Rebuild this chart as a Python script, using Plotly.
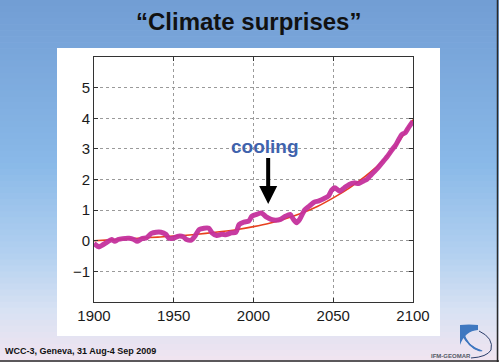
import plotly.graph_objects as go

# ---------------- data ----------------
years_obs = [1900, 1903, 1905, 1908, 1911, 1913, 1915, 1918, 1922, 1925, 1927, 1930,
             1933, 1936, 1939, 1942, 1945, 1947, 1950, 1953, 1956, 1958, 1961, 1963,
             1966, 1969, 1972, 1974, 1977, 1980, 1983, 1986, 1989, 1991, 1994, 1997,
             1999, 2002, 2005, 2008, 2011, 2014, 2017, 2020, 2023, 2025, 2027, 2029,
             2032, 2035, 2038, 2041, 2044, 2047, 2049, 2051, 2054, 2057, 2060, 2063,
             2066, 2069, 2071, 2073, 2075, 2078, 2081, 2084, 2087, 2089, 2091, 2093,
             2095, 2097, 2100]
temp_obs = [-0.09, -0.20, -0.15, -0.05, 0.04, -0.02, 0.04, 0.07, 0.08, 0.04, -0.02, 0.07,
            0.10, 0.24, 0.28, 0.28, 0.21, 0.08, 0.09, 0.15, 0.13, 0.04, 0.02, 0.13,
            0.37, 0.41, 0.41, 0.26, 0.17, 0.21, 0.20, 0.26, 0.28, 0.53, 0.61, 0.64,
            0.80, 0.86, 0.91, 0.78, 0.70, 0.67, 0.70, 0.80, 0.86, 0.70, 0.59, 0.70,
            1.00, 1.13, 1.26, 1.30, 1.37, 1.46, 1.65, 1.73, 1.62, 1.73, 1.84, 1.89,
            1.87, 1.95, 2.00, 2.11, 2.22, 2.38, 2.57, 2.76, 2.98, 3.11, 3.30, 3.47,
            3.52, 3.68, 3.90]

years_trend = [1900, 1910, 1920, 1930, 1940, 1950, 1960, 1970, 1980, 1990, 2000,
               2010, 2020, 2030, 2040, 2050, 2060, 2070, 2080, 2090, 2100]
temp_trend = [0.00, 0.03, 0.06, 0.09, 0.12, 0.15, 0.19, 0.24, 0.30, 0.37, 0.46,
              0.57, 0.72, 0.90, 1.12, 1.40, 1.72, 2.10, 2.55, 3.15, 3.95]

x_ticks = [1900, 1950, 2000, 2050, 2100]
y_ticks = [-1, 0, 1, 2, 3, 4, 5]

title_text = "“Climate surprises”"
footer_text = "WCC-3, Geneva, 31 Aug-4 Sep 2009"
annot_text = "cooling"
logo_text = "IFM-GEOMAR"

# ---------------- layout geometry ----------------
W, H = 499, 362
L, R, T, B = 94, 413, 57, 302
ML, MR, MT, MB = L, W - R, T, H - B
PW, PH = R - L, B - T


def px(X):
    return (X - L) / PW


def py(Y):
    return (B - Y) / PH


fig = go.Figure()

fig.add_trace(go.Scatter(x=years_trend, y=temp_trend, mode="lines",
                         line=dict(color="#e8401e", width=1.6, shape="spline"),
                         hoverinfo="skip", showlegend=False))
fig.add_trace(go.Scatter(x=years_obs, y=temp_obs, mode="lines",
                         line=dict(color="#c4309c", width=5, shape="spline", smoothing=0.6),
                         opacity=0.95, hoverinfo="skip", showlegend=False))

# background gradient bands
stops = [(0.0, (114, 157, 212)), (0.45, (137, 185, 232)), (0.7, (178, 208, 240)),
         (0.86, (216, 226, 243)), (1.0, (242, 228, 240))]


def grad(t):
    for (t0, c0), (t1, c1) in zip(stops[:-1], stops[1:]):
        if t0 <= t <= t1:
            f = (t - t0) / (t1 - t0)
            return tuple(round(a + (b - a) * f) for a, b in zip(c0, c1))
    return stops[-1][1]


shapes = []
n = 60
for i in range(n):
    y0 = H * i / n
    y1 = H * (i + 1) / n + 0.6
    c = grad((i + 0.5) / n)
    shapes.append(dict(type="rect", xref="paper", yref="paper", layer="below",
                       x0=px(0), x1=px(W), y0=py(y1), y1=py(y0),
                       fillcolor="rgb(%d,%d,%d)" % c, line=dict(width=0)))
# white panel
shapes.append(dict(type="rect", xref="paper", yref="paper", layer="below",
                   x0=px(57), x1=px(440), y0=py(336), y1=py(48),
                   fillcolor="white", line=dict(width=0)))
# slide frame lines (right and bottom)
shapes.append(dict(type="line", xref="paper", yref="paper", layer="above",
                   x0=px(497.5), x1=px(497.5), y0=py(0), y1=py(362),
                   line=dict(color="#2a2a2a", width=1.5)))
shapes.append(dict(type="line", xref="paper", yref="paper", layer="above",
                   x0=px(0), x1=px(499), y0=py(361), y1=py(361),
                   line=dict(color="#2a2a2a", width=1.5)))
# logo approximation
logo_path = "M {} {} L {} {} Q {} {} {} {} L {} {} Q {} {} {} {} Z".format(
    px(460), py(325), px(460), py(345), px(465), py(331), px(478), py(330),
    px(478), py(325), px(469), py(324), px(460), py(325))
shapes.append(dict(type="path", xref="paper", yref="paper", layer="above",
                   path=logo_path, fillcolor="#3f78c0", line=dict(width=0)))
for k, (r, w) in enumerate([(7, 1.3), (10, 1.3), (13, 1.3)]):
    shapes.append(dict(type="path", xref="paper", yref="paper", layer="above",
                       path="M {} {} Q {} {} {} {}".format(px(463), py(332 + k * 2),
                                                           px(466 + r * 0.2), py(347),
                                                           px(477 + r * 0.4), py(351)),
                       line=dict(color="#3f78c0", width=w)))
shapes.append(dict(type="path", xref="paper", yref="paper", layer="above",
                   path="M {} {} Q {} {} {} {} Q {} {} {} {}".format(
                       px(479), py(331), px(494), py(338), px(491), py(350),
                       px(487), py(357), px(471), py(358)),
                   line=dict(color="#2a3d6a", width=1)))

annotations = [
    dict(text=title_text, xref="paper", yref="paper", x=px(248), y=py(21),
         xanchor="center", yanchor="middle", showarrow=False,
         font=dict(family="Liberation Sans, Arial", size=24, color="#111111", weight="bold")),
    dict(text=footer_text, xref="paper", yref="paper", x=px(3), y=py(351),
         xanchor="left", yanchor="middle", showarrow=False,
         font=dict(family="Liberation Sans, Arial", size=9, color="#111111", weight="bold")),
    dict(text=logo_text, xref="paper", yref="paper", x=px(451), y=py(356),
         xanchor="center", yanchor="middle", showarrow=False,
         font=dict(family="Liberation Sans, Arial", size=6, color="#555a66", weight="bold")),
    dict(text=annot_text, x=2007.3, y=3.08, xref="x", yref="y", showarrow=False,
         xanchor="center", yanchor="middle",
         font=dict(family="Liberation Sans, Arial", size=19, color="#3f63ad", weight="bold")),
    dict(text="", x=2009.2, y=1.2, ax=2009.2, ay=2.75, xref="x", yref="y",
         axref="x", ayref="y", showarrow=True, arrowhead=2, arrowwidth=4,
         arrowsize=0.9, arrowcolor="#000000", standoff=0, startstandoff=0),
]

axis_common = dict(showline=True, linecolor="#333333", linewidth=1, mirror="ticks",
                   ticks="inside", ticklen=4, tickcolor="#333333",
                   showgrid=True, gridcolor="#9a9a9a", griddash="dot", gridwidth=1,
                   zeroline=False,
                   tickfont=dict(family="Liberation Sans, Arial", size=15, color="#1a1a1a"))

fig.update_layout(
    width=W, height=H,
    margin=dict(l=ML, r=MR, t=MT, b=MB, pad=0),
    paper_bgcolor="rgb(160,195,235)",
    plot_bgcolor="white",
    shapes=shapes,
    annotations=annotations,
    xaxis=dict(range=[1900, 2100], tickvals=x_ticks, **axis_common),
    yaxis=dict(range=[-2, 6], tickvals=y_ticks, **axis_common),
    showlegend=False,
)

fig.write_html("out.html", config={"displayModeBar": False, "staticPlot": True},
               post_script="document.body.style.margin='0';document.body.style.padding='0';"
                           "document.body.style.overflow='hidden';")
